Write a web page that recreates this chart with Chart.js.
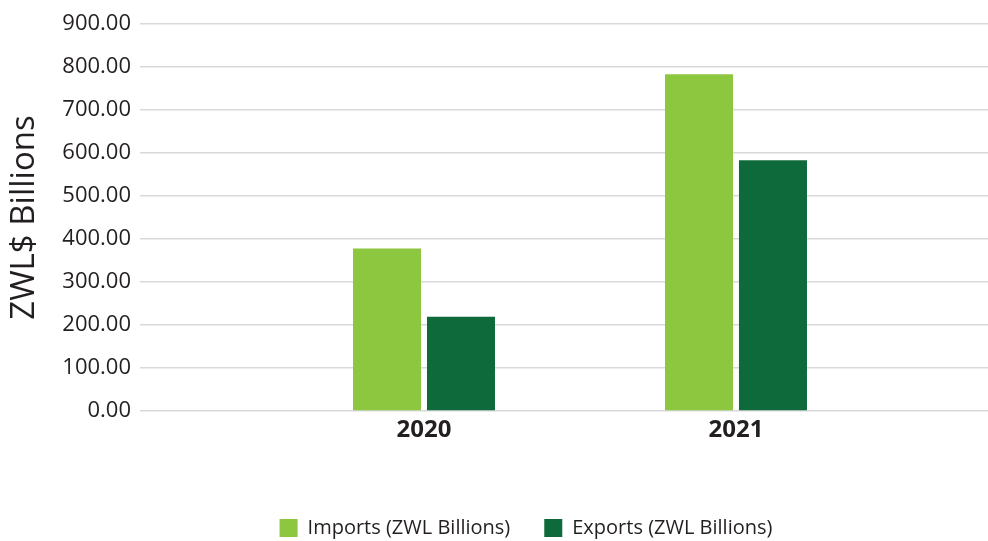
<!DOCTYPE html>
<html>
<head>
<meta charset="utf-8">
<script src="https://cdn.jsdelivr.net/npm/chart.js@4/dist/chart.umd.min.js"></script>
<style>
  html, body { margin: 0; padding: 0; background: #ffffff; }
  #wrap { width: 988px; height: 541px; position: relative; }
</style>
</head>
<body>
<div id="wrap"><canvas id="tradeChart"></canvas></div>
<script>
// data
var years = [2020, 2021];
var importsZwl = [378, 783];
var exportsZwl = [219, 583];
var seriesNames = ['Imports (ZWL Billions)', 'Exports (ZWL Billions)'];
var yTickMax = 900;
var yTickStep = 100;

var TEXT_COLOR = '#231f20';
var FONT = "'Open Sans', 'Noto Sans', sans-serif";

function toPoints(values) {
	return years.map(function (year, i) {
		return { x: year, y: values[i] };
	});
}

// the legend in the reference sits a bit right of centre and low
var legendShift = {
	id: 'legendShift',
	afterLayout: function (chart) {
		chart.legend.left += 32;
		chart.legend.right += 32;
		chart.legend.top += 7;
		chart.legend.bottom += 7;
	}
};

var ctx = document.getElementById('tradeChart');
var tradeChart = new Chart(ctx, {
	type: 'bar',
	data: {
		datasets: [{
			label: seriesNames[0],
			data: toPoints(importsZwl),
			backgroundColor: '#8dc63f'
		}, {
			label: seriesNames[1],
			data: toPoints(exportsZwl),
			backgroundColor: '#0f6a3b'
		}]
	},
	options: {
		responsive: true,
		maintainAspectRatio: false,
		animation: false,
		categoryPercentage: 0.474,
		barPercentage: 0.92,
		layout: { padding: { top: 24, right: 0, left: 0, bottom: 0 } },
		plugins: {
			tooltip: { enabled: false },
			legend: {
				position: 'bottom',
				labels: {
					color: TEXT_COLOR,
					font: { family: FONT, size: 20 },
					boxWidth: 18,
					boxHeight: 18,
					padding: 34
				}
			}
		},
		scales: {
			x: {
				type: 'linear',
				offset: false,
				min: 2019.0897,
				max: 2021.8077,
				afterBuildTicks: function (scale) {
					scale.ticks = years.map(function (y) { return { value: y }; });
				},
				afterFit: function (scale) {
					scale.height = 66;
				},
				grid: { display: false },
				border: { display: false },
				ticks: {
					color: TEXT_COLOR,
					font: { family: FONT, size: 24, weight: 'bold' },
					padding: -3,
					maxRotation: 0,
					callback: function (v) { return String(v); }
				}
			},
			y: {
				min: 0,
				max: yTickMax,
				afterFit: function (scale) {
					scale.width = 140;
				},
				border: { display: false },
				grid: {
					color: '#d9d9d9',
					lineWidth: 1.5,
					drawTicks: false
				},
				ticks: {
					stepSize: yTickStep,
					color: TEXT_COLOR,
					font: { family: FONT, size: 22 },
					padding: 9,
					callback: function (v) { return v.toFixed(2); }
				},
				title: {
					display: true,
					text: 'ZWL$ Billions',
					color: TEXT_COLOR,
					font: { family: FONT, size: 33 },
					padding: { top: 5, bottom: 4 }
				}
			}
		}
	},
	plugins: [legendShift]
});
</script>
</body>
</html>
